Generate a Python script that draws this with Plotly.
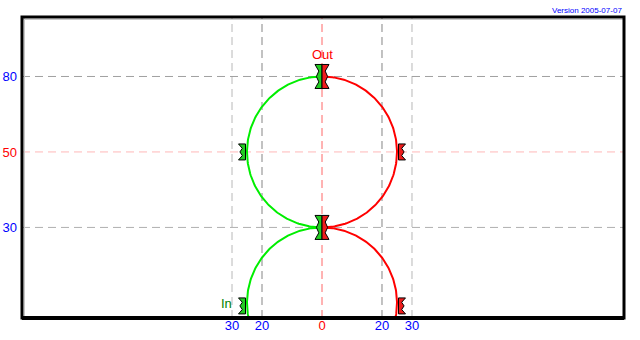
import numpy as np
import plotly.graph_objects as go

# ---------------- data ----------------
x_tick_vals = [-30, -20, 0, 20, 30]
x_tick_text = ["30", "20", "0", "20", "30"]
y_tick_vals = [30, 55, 80]
y_tick_text = ["30", "50", "80"]

circle_center_x = [0, 0]
circle_center_y = [55, 5]
circle_radius = [25, 25]

in_marker_x = [0, -25, 0, -25]
in_marker_y = [80, 55, 30, 4]
out_marker_x = [0, 25, 0, 25]
out_marker_y = [80, 55, 30, 4]

v_grid_x = [-30, -20, 0, 20, 30]
h_grid_y = [30, 55, 80]

# ---------------- styles ----------------
GREEN_LINE = "#00ee00"
RED_LINE = "#ff0000"
GREEN_FILL = "#22cc22"
RED_FILL = "#ee1c1c"
BLUE = "#0000ff"
FONT = "Liberation Sans, Arial, sans-serif"

fig = go.Figure()

# circle arcs (left half "In" green, right half "Out" red)
for cx, cy, r in zip(circle_center_x, circle_center_y, circle_radius):
    t_left = np.radians(np.linspace(90, 270, 181))
    t_right = np.radians(np.linspace(90, -90, 181))
    fig.add_trace(go.Scatter(x=cx + r * np.cos(t_left), y=cy + r * np.sin(t_left),
                             mode="lines", line=dict(color=GREEN_LINE, width=2),
                             hoverinfo="skip", showlegend=False))
    fig.add_trace(go.Scatter(x=cx + r * np.cos(t_right), y=cy + r * np.sin(t_right),
                             mode="lines", line=dict(color=RED_LINE, width=2),
                             hoverinfo="skip", showlegend=False))

shapes = []
# grid lines
v_colors = {0: "#ff6666", 20: "#858585", 30: "#b8b8b8"}
for gx in v_grid_x:
    shapes.append(dict(type="line", xref="x", yref="paper", x0=gx, x1=gx, y0=0, y1=1,
                       line=dict(color=v_colors[abs(gx)], width=1, dash="8px,5px"),
                       layer="below"))
h_colors = {30: "#b0b0b0", 55: "#ffb8b8", 80: "#a0a0a0"}
for gy in h_grid_y:
    shapes.append(dict(type="line", xref="paper", yref="y", x0=0, x1=1, y0=gy, y1=gy,
                       line=dict(color=h_colors[gy], width=1, dash="8px,5px"),
                       layer="below"))


def half_marker_path(sign, h, gap):
    w = 7
    pts = [(gap, -h), (gap + w, -h), (gap + 3.2, -h * 0.45), (gap + 5.6, 0),
           (gap + 3.2, h * 0.45), (gap + w, h), (gap, h)]
    return "M " + " L ".join(f"{sign * px:.2f},{py:.2f}" for px, py in pts) + " Z"


for xs, ys, sign, fill in ((in_marker_x, in_marker_y, -1, GREEN_FILL),
                           (out_marker_x, out_marker_y, 1, RED_FILL)):
    for mx, my in zip(xs, ys):
        centre = (mx == 0)
        h = 12 if centre else 8
        gap = 0 if centre else 1.5
        shapes.append(dict(type="path", xref="x", yref="y",
                           xsizemode="pixel", ysizemode="pixel",
                           xanchor=mx, yanchor=my,
                           path=half_marker_path(sign, h, gap),
                           fillcolor=fill, line=dict(color="black", width=1),
                           layer="above"))

# inner light shadow + frame
shapes.append(dict(type="line", xref="paper", yref="paper", xsizemode="pixel", xanchor=0,
                   x0=2.5, x1=2.5, y0=0, y1=1,
                   line=dict(color="#c8c8c8", width=1), layer="above"))
shapes.append(dict(type="line", xref="paper", yref="paper", ysizemode="pixel", yanchor=1,
                   x0=0, x1=1, y0=-2.5, y1=-2.5,
                   line=dict(color="#c8c8c8", width=1), layer="above"))
shapes.append(dict(type="rect", xref="paper", yref="paper", x0=0, x1=1, y0=0, y1=1,
                   line=dict(color="black", width=3), layer="above"))
shapes.append(dict(type="line", xref="paper", yref="paper", x0=0, x1=1, y0=0, y1=0,
                   line=dict(color="black", width=4), layer="above"))

annotations = [
    dict(text="Out", x=out_marker_x[0], y=out_marker_y[0], xref="x", yref="y",
         showarrow=False, yshift=22, font=dict(family=FONT, size=13, color="#ff0000")),
    dict(text="In", x=in_marker_x[3], y=in_marker_y[3], xref="x", yref="y",
         showarrow=False, xshift=-21, yshift=2, font=dict(family=FONT, size=13, color="#008000")),
    dict(text="Version 2005-07-07", x=1, y=1, xref="paper", yref="paper",
         xanchor="right", yanchor="bottom", showarrow=False, yshift=0,
         font=dict(family=FONT, size=8, color="#0000ff")),
]


def colored(labels, red_label):
    return [f'<span style="color:#ff0000">{t}</span>' if t == red_label else t for t in labels]


fig.update_layout(
    width=640, height=340,
    margin=dict(l=22, r=16, t=17, b=22, pad=0, autoexpand=False),
    paper_bgcolor="white", plot_bgcolor="white",
    showlegend=False,
    shapes=shapes, annotations=annotations,
    xaxis=dict(range=[-100, 100.67], tickvals=x_tick_vals, ticktext=colored(x_tick_text, "0"),
               showgrid=False, zeroline=False, showline=False, ticks="", automargin=False,
               ticklabelstandoff=-2,
               tickfont=dict(family=FONT, size=13, color=BLUE), fixedrange=True),
    yaxis=dict(range=[0, 99.7], tickvals=y_tick_vals, ticktext=colored(y_tick_text, "50"),
               showgrid=False, zeroline=False, showline=False, ticks="", automargin=False,
               ticklabelstandoff=4,
               tickfont=dict(family=FONT, size=13, color=BLUE), fixedrange=True),
)

fig.write_html("out.html", config={"displayModeBar": False})
